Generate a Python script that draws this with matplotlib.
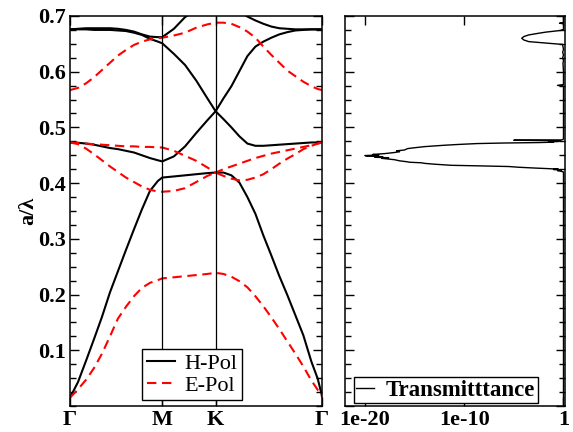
###############################################################
# matplotlib
###############################################################
import matplotlib
matplotlib.use('Agg')
import matplotlib.pyplot as plt
from matplotlib import rc
from matplotlib.ticker import MultipleLocator
rc('font', **{'family': 'serif', 'serif': ['Liberation Serif', 'DejaVu Serif']})

import numpy as np

###############################################################
# k path (hexagonal lattice, units of 2pi/a): G - M - K - G
###############################################################
k_path = [0.0, 0.05, 0.1, 0.15, 0.2, 0.25, 0.3, 0.35, 0.4, 0.45, 0.5, 0.55, 0.577,
          0.65, 0.72, 0.79, 0.86, 0.911,
          0.96, 1.01, 1.06, 1.11, 1.16, 1.21, 1.26, 1.31, 1.36, 1.41, 1.46, 1.51, 1.55, 1.577]
k_ticks = [0.0, 0.577, 0.911, 1.577]
k_labels = [u'\u0393', 'M', 'K', u'\u0393']

###############################################################
# bands (a/lambda)
###############################################################
h_band1 = [0.015, 0.043, 0.081, 0.120, 0.160, 0.204, 0.242, 0.280, 0.317, 0.353, 0.386, 0.404, 0.410,
           0.412, 0.414, 0.416, 0.418, 0.419,
           0.419, 0.414, 0.401, 0.375, 0.345, 0.306, 0.270, 0.233, 0.199, 0.163, 0.127, 0.080, 0.049, 0.018]
h_band2 = [0.473, 0.4725, 0.471, 0.469, 0.466, 0.463, 0.461, 0.458, 0.455, 0.450, 0.445, 0.441, 0.439,
           0.448, 0.466, 0.490, 0.513, 0.529,
           0.515, 0.500, 0.484, 0.471, 0.467, 0.467, 0.468, 0.469, 0.470, 0.471, 0.472, 0.473, 0.473, 0.473]
h_band3 = [0.676, 0.676, 0.676, 0.675, 0.675, 0.675, 0.674, 0.673, 0.670, 0.666, 0.659, 0.654, 0.651,
           0.632, 0.612, 0.584, 0.552, 0.529,
           0.552, 0.574, 0.601, 0.628, 0.645, 0.654, 0.661, 0.667, 0.671, 0.674, 0.675, 0.676, 0.676, 0.676]
h_band4 = [0.676, 0.677, 0.678, 0.678, 0.678, 0.678, 0.677, 0.675, 0.672, 0.667, 0.663, 0.662, 0.662,
           0.677, 0.698, 0.712, 0.720, 0.722,
           0.720, 0.716, 0.708, 0.699, 0.692, 0.686, 0.681, 0.678, 0.677, 0.676, 0.676, 0.676, 0.676, 0.676]

e_band1 = [0.015, 0.030, 0.047, 0.068, 0.094, 0.125, 0.157, 0.178, 0.197, 0.212, 0.221, 0.226, 0.229,
           0.231, 0.233, 0.235, 0.237, 0.239,
           0.237, 0.232, 0.224, 0.213, 0.197, 0.179, 0.159, 0.138, 0.116, 0.094, 0.071, 0.046, 0.029, 0.017]
e_band2 = [0.473, 0.470, 0.462, 0.452, 0.441, 0.430, 0.420, 0.410, 0.402, 0.394, 0.388, 0.385, 0.3845,
           0.386, 0.391, 0.402, 0.413, 0.419,
           0.413, 0.408, 0.405, 0.406, 0.410, 0.416, 0.425, 0.435, 0.444, 0.452, 0.461, 0.467, 0.471, 0.473]
e_band3 = [0.473, 0.472, 0.471, 0.470, 0.469, 0.468, 0.467, 0.466, 0.466, 0.465, 0.465, 0.464, 0.464,
           0.458, 0.449, 0.440, 0.428, 0.419,
           0.425, 0.430, 0.435, 0.440, 0.445, 0.449, 0.453, 0.456, 0.459, 0.462, 0.465, 0.468, 0.471, 0.473]
e_band4 = [0.567, 0.571, 0.579, 0.590, 0.603, 0.616, 0.629, 0.639, 0.648, 0.654, 0.658, 0.660, 0.661,
           0.665, 0.670, 0.679, 0.685, 0.688,
           0.688, 0.686, 0.680, 0.672, 0.661, 0.645, 0.630, 0.616, 0.602, 0.592, 0.582, 0.574, 0.569, 0.567]

###############################################################
# transmittance (frequency, log10 T)
###############################################################
trans_freq = [0.003, 0.400, 0.420, 0.4215, 0.4225, 0.4235, 0.4245, 0.425, 0.426, 0.427, 0.4285, 0.4298,
              0.431, 0.432, 0.434, 0.4355, 0.4365, 0.4375, 0.4385, 0.440, 0.442, 0.443, 0.4445, 0.4455,
              0.4465, 0.4475, 0.4485, 0.4495, 0.4505, 0.4515, 0.453, 0.455, 0.4565, 0.458, 0.4595, 0.462,
              0.4635, 0.4655, 0.468, 0.4695, 0.471, 0.472, 0.4728, 0.4735, 0.474, 0.4748, 0.4755, 0.4762,
              0.477, 0.4775, 0.479, 0.550, 0.574, 0.5755, 0.577, 0.600, 0.615, 0.620, 0.625, 0.630,
              0.635, 0.640, 0.645, 0.649, 0.651, 0.654, 0.657, 0.660, 0.663, 0.666, 0.669, 0.671,
              0.674, 0.676, 0.686, 0.687, 0.688, 0.700]
trans_log = [0.0, 0.0, 0.0, -0.3, -0.6, -0.2, -1.0, -0.5, -1.5, -2.8, -4.5, -5.5,
             -8.5, -11.3, -13.0, -14.0, -14.3, -15.5, -15.8, -16.5, -17.0, -17.5, -18.3, -17.6,
             -19.0, -18.2, -19.8, -20.0, -18.6, -19.2, -18.0, -17.0, -16.5, -16.8, -16.0, -15.7,
             -15.0, -14.0, -12.0, -10.5, -8.7, -6.0, -2.5, -1.0, -1.5, -0.5, -1.3, -0.3,
             -5.0, -0.2, 0.0, 0.0, 0.0, -0.6, 0.0, 0.0, -0.05, 0.0, -0.08, 0.0,
             -0.08, 0.0, -0.05, -0.1, -1.5, -3.5, -4.0, -4.2, -4.0, -3.5, -2.5, -1.8,
             -0.3, 0.0, 0.0, -0.4, 0.0, 0.0]
trans_ticks = [1e-20, 1e-10, 1]
trans_labels = ['1e-20', '1e-10', '1']

##################################################
# the figure where the plots will be
##################################################
fig = plt.figure(figsize=(5.73, 4.32), dpi=100)
ax0 = fig.add_axes([0.1222, 0.0602, 0.4398, 0.9028])
ax1 = fig.add_axes([0.6021, 0.0602, 0.3839, 0.9028])
linewidth = 1.5
dash = (0, (4.5, 2.7))

##################################################
# plot 0 - band structure
##################################################
ax0.plot(k_path, h_band1, color='black', linewidth=linewidth, label='H-Pol')
for band in [h_band2, h_band3, h_band4]:
    ax0.plot(k_path, band, color='black', linewidth=linewidth)
ax0.plot(k_path, e_band1, color='red', linewidth=linewidth, linestyle=dash, label='E-Pol')
for band in [e_band2, e_band3, e_band4]:
    ax0.plot(k_path, band, color='red', linewidth=linewidth, linestyle=dash)
for kk in k_ticks[1:3]:
    ax0.axvline(kk, color='black', linewidth=0.9)
ax0.set_xlim(k_ticks[0], k_ticks[-1])
ax0.set_ylim(0.0, 0.7)
ax0.set_xticks(k_ticks)
ax0.set_xticklabels(k_labels, fontsize=16, fontweight='bold')
ax0.set_yticks(np.arange(0.1, 0.75, 0.1))
ax0.set_yticklabels(['%.1f' % v for v in np.arange(0.1, 0.75, 0.1)], fontsize=16, fontweight='bold')
ax0.yaxis.set_minor_locator(MultipleLocator(0.025))
ax0.set_ylabel(u'a/\u03bb', fontsize=16, fontweight='bold', labelpad=0)
ax0.tick_params(axis='both', which='both', direction='in', right=True, top=True, width=1.0, pad=3)
ax0.tick_params(which='major', length=6.5)
ax0.tick_params(which='minor', length=4)
leg0 = ax0.legend(loc='lower center', bbox_to_anchor=(0.484, 0.015), fontsize=16, fancybox=False,
                  framealpha=1, edgecolor='black', borderpad=0.2, labelspacing=0.05,
                  handlelength=1.3, handletextpad=0.4, borderaxespad=0)
leg0.get_frame().set_linewidth(1.0)

##################################################
# plot 1 - transmittance
##################################################
ax1.plot(10.0 ** np.array(trans_log), trans_freq, color='black', linewidth=1.0, label='Transmitttance')
ax1.set_xscale('log')
ax1.set_xlim(1e-22, 10 ** 0.15)
ax1.set_ylim(0.0, 0.7)
ax1.set_xticks(trans_ticks)
ax1.set_xticklabels(trans_labels, fontsize=16, fontweight='bold')
ax1.xaxis.set_minor_locator(matplotlib.ticker.NullLocator())
ax1.yaxis.set_major_locator(MultipleLocator(0.1))
ax1.yaxis.set_minor_locator(MultipleLocator(0.025))
ax1.set_yticklabels([])
ax1.tick_params(axis='both', which='both', direction='in', right=True, top=True, width=1.0, pad=3)
ax1.tick_params(which='major', length=6.5)
ax1.tick_params(which='minor', length=4)
leg1 = ax1.legend(loc='lower left', bbox_to_anchor=(0.04, 0.008), fancybox=False,
                  framealpha=1, edgecolor='black', borderpad=0.1, handlelength=0.8,
                  handletextpad=0.5, borderaxespad=0, prop={'weight': 'bold', 'size': 16.5})
leg1.get_frame().set_linewidth(1.0)

for ax in [ax0, ax1]:
    for sp in ax.spines.values():
        sp.set_linewidth(1.1)

##################################################
# saving
##################################################
plt.savefig('out.png', dpi=100)
